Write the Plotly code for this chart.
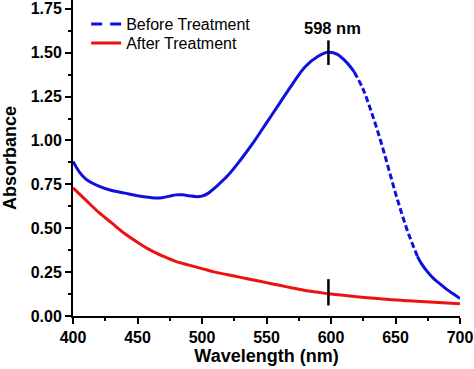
import plotly.graph_objects as go

# Data
before_wl = [400, 405, 410, 420, 430, 440, 450, 460, 465, 470, 475, 480, 485, 490, 495, 500, 505,
             510, 520, 530, 540, 550, 560, 570, 580, 590, 598, 605, 610, 615, 618]
before_abs = [0.88, 0.82, 0.78, 0.74, 0.715, 0.70, 0.685, 0.675, 0.672, 0.675, 0.683, 0.69, 0.69,
              0.685, 0.68, 0.683, 0.70, 0.73, 0.80, 0.89, 0.99, 1.10, 1.21, 1.32, 1.42, 1.48, 1.502,
              1.49, 1.46, 1.42, 1.39]
dashed_wl = [618, 625, 630, 635, 640, 645, 650, 655, 660, 667]
dashed_abs = [1.39, 1.29, 1.19, 1.08, 0.96, 0.83, 0.70, 0.58, 0.47, 0.34]
tail_wl = [667, 670, 675, 680, 685, 690, 695, 700]
tail_abs = [0.34, 0.30, 0.25, 0.21, 0.18, 0.15, 0.125, 0.10]

after_wl = [400, 410, 420, 430, 440, 450, 460, 470, 480, 490, 500, 510, 520, 530, 540, 550, 560,
            570, 580, 590, 600, 620, 640, 660, 680, 700]
after_abs = [0.73, 0.66, 0.59, 0.53, 0.47, 0.42, 0.375, 0.34, 0.31, 0.29, 0.27, 0.25, 0.235, 0.22,
             0.205, 0.19, 0.175, 0.16, 0.145, 0.135, 0.125, 0.11, 0.097, 0.087, 0.078, 0.07]

PEAK_WL = 598
PEAK_LABEL = "598 nm"
MARK_TOP = [1.43, 1.57]
MARK_BOTTOM = [0.06, 0.21]

x_ticks = [400, 450, 500, 550, 600, 650, 700]
y_ticks = [0.00, 0.25, 0.50, 0.75, 1.00, 1.25, 1.50, 1.75]
y_tick_labels = ["0.00", "0.25", "0.50", "0.75", "1.00", "1.25", "1.50", "1.75"]

BLUE = "#1010dd"
RED = "#ee1111"
FONT = "Liberation Sans, Arial, sans-serif"

fig = go.Figure()
fig.add_trace(go.Scatter(x=before_wl, y=before_abs, mode="lines", showlegend=False,
                         line=dict(color=BLUE, width=3, shape="spline")))
fig.add_trace(go.Scatter(x=dashed_wl, y=dashed_abs, mode="lines", showlegend=False,
                         line=dict(color=BLUE, width=3, dash="6px,3px", shape="spline")))
fig.add_trace(go.Scatter(x=tail_wl, y=tail_abs, mode="lines", showlegend=False,
                         line=dict(color=BLUE, width=3, shape="spline")))
# legend-only entry for the "Before" series (longer dash pattern, like the reference key)
fig.add_trace(go.Scatter(x=[None], y=[None], mode="lines", name="Before Treatment",
                         legend="legend",
                         line=dict(color=BLUE, width=3, dash="11px,8px")))
fig.add_trace(go.Scatter(x=after_wl, y=after_abs, mode="lines", name="After Treatment",
                         legend="legend2",
                         line=dict(color=RED, width=3, shape="spline")))

for y0, y1 in (MARK_TOP, MARK_BOTTOM):
    fig.add_shape(type="line", x0=PEAK_WL, x1=PEAK_WL, y0=y0, y1=y1, xref="x", yref="y",
                  line=dict(color="black", width=2.5))

fig.add_annotation(x=PEAK_WL, y=1.64, text="<b>" + PEAK_LABEL + "</b>", showarrow=False,
                   xref="x", yref="y", xshift=4, font=dict(size=16.5, color="black", family=FONT),
                   yanchor="middle")

axis_common = dict(showline=True, linecolor="black", linewidth=2, ticks="outside",
                   ticklen=6, tickwidth=2, tickcolor="black", showgrid=False, zeroline=False,
                   mirror=False, automargin=False,
                   tickfont=dict(size=16, color="black", family=FONT))

fig.update_xaxes(range=[400, 700], tickvals=x_ticks,
                 ticktext=["<b>%d</b>" % v for v in x_ticks],
                 title=dict(text="<b>Wavelength (nm)</b>", font=dict(size=18, color="black", family=FONT),
                            standoff=2),
                 minor=dict(ticks="outside", ticklen=3, tickwidth=2, tickcolor="black", dtick=25),
                 **axis_common)
fig.update_yaxes(range=[0, 1.8], tickvals=y_ticks,
                 ticktext=["<b>%s</b>" % t for t in y_tick_labels],
                 title=dict(text="<b>Absorbance</b>", font=dict(size=18, color="black", family=FONT),
                            standoff=10),
                 minor=dict(ticks="outside", ticklen=3, tickwidth=2, tickcolor="black", dtick=0.125),
                 **axis_common)

legend_common = dict(x=0.034, xanchor="left", yanchor="middle", bgcolor="rgba(0,0,0,0)",
                     font=dict(size=16, color="black", family=FONT), itemwidth=30)

fig.update_layout(
    width=474, height=369,
    margin=dict(l=73, r=14, t=0, b=53),
    paper_bgcolor="white", plot_bgcolor="white",
    font=dict(family=FONT, color="black"),
    legend=dict(y=0.924, **legend_common),
    legend2=dict(y=0.864, **legend_common),
)

fig.write_html("out.html", config={"displayModeBar": False},
               post_script="document.body.style.margin='0';document.body.style.overflow='hidden';")
